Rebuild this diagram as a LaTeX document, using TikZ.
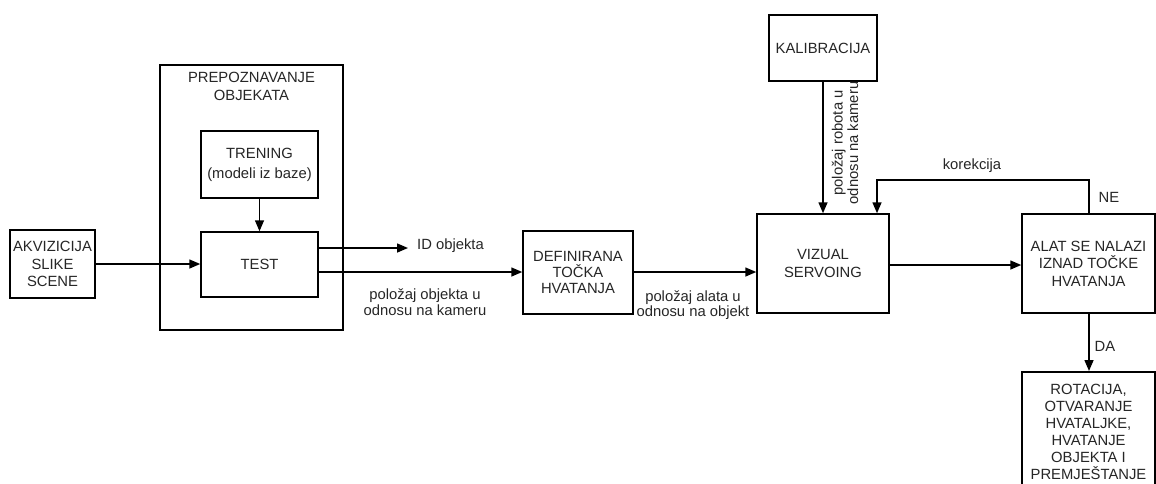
\documentclass[tikz,border=0pt]{standalone}
\usepackage{fontspec}
\setmainfont{Liberation Sans}
\usetikzlibrary{arrows.meta}
\begin{document}
\begin{tikzpicture}[x=1pt,y=-1pt,
  box/.style={draw=black,line width=1.5pt,fill=white,align=center,inner sep=0pt,
    font=\fontsize{14.8}{17.5}\selectfont,text=black!85},
  lbl/.style={align=center,inner sep=0pt,font=\fontsize{14.8}{15.5}\selectfont,text=black!85},
  arr/.style={line width=1.5pt,-{Triangle[length=11pt,width=9pt]}},
  ln/.style={line width=1.5pt}]
\useasboundingbox (0,0) rectangle (1156,483);
% boxes
\node[box,minimum width=85pt,minimum height=68pt] (akv) at (52.5,264) {AKVIZICIJA\\SLIKE\\SCENE};
\node[box,minimum width=183pt,minimum height=265pt] (prep) at (251.5,197.5) {};
\node[lbl,font=\fontsize{14.8}{18}\selectfont] (preptitle) at (251.5,86) {PREPOZNAVANJE\\OBJEKATA};
\node[box,minimum width=117pt,minimum height=67pt,font=\fontsize{14.8}{20}\selectfont] (tren) at (259.5,164.5) {TRENING\\(modeli iz baze)};
\node[box,minimum width=117pt,minimum height=65pt] (test) at (259.5,264.5) {TEST};
\node[box,minimum width=110pt,minimum height=83pt,font=\fontsize{14.8}{16}\selectfont] (def) at (578,272.5) {DEFINIRANA\\TOČKA\\HVATANJA};
\node[box,minimum width=108pt,minimum height=66pt] (kal) at (823,48) {KALIBRACIJA};
\node[box,minimum width=132pt,minimum height=99pt,font=\fontsize{14.8}{18}\selectfont] (viz) at (823,263.5) {VIZUAL\\SERVOING};
\node[box,minimum width=133pt,minimum height=99pt] (alat) at (1088.5,263.5) {ALAT SE NALAZI\\IZNAD TOČKE\\HVATANJA};
\node[box,minimum width=133pt,minimum height=120pt,anchor=north,font=\fontsize{14.8}{17}\selectfont] (rot) at (1088.5,371) {ROTACIJA,\\OTVARANJE\\HVATALJKE,\\HVATANJE\\OBJEKTA I\\PREMJEŠTANJE};
% coordinates
\coordinate (idend) at (408,248);
\coordinate (posy) at (0,272);
\coordinate (vizy) at (0,265);
\coordinate (korR) at (1089,180);
\coordinate (korL) at (877,180);
% connectors
\draw[arr] (akv.east) -- (test.west |- akv.east);
\draw[arr] (tren.south) -- (test.north);
\draw[arr] (test.east |- idend) -- (idend);
\draw[arr] (test.east |- posy) -- (def.west |- posy);
\draw[arr] (def.east |- posy) -- (viz.west |- posy);
\draw[arr] (kal.south) -- (viz.north);
\draw[arr] (alat.north -| korR) -- (korR) -- (korL) -- (viz.north -| korL);
\draw[arr] (viz.east |- vizy) -- (alat.west |- vizy);
\draw[arr] (alat.south -| korR) -- (rot.north -| korR);
% labels
\node[lbl,anchor=west] (idlbl) at (417,246) {ID objekta};
\node[lbl] (poslbl) at (425,302) {položaj objekta u\\odnosu na kameru};
\node[lbl] (alatlbl) at (693,305) {položaj alata u\\odnosu na objekt};
\node[lbl,rotate=90] (robolbl) at (845,143) {položaj robota u\\odnosu na kameru};
\node[lbl] (korlbl) at (972,166) {korekcija};
\node[lbl] (nelbl) at (1109,197) {NE};
\node[lbl] (dalbl) at (1105,346) {DA};
\end{tikzpicture}
\end{document}
